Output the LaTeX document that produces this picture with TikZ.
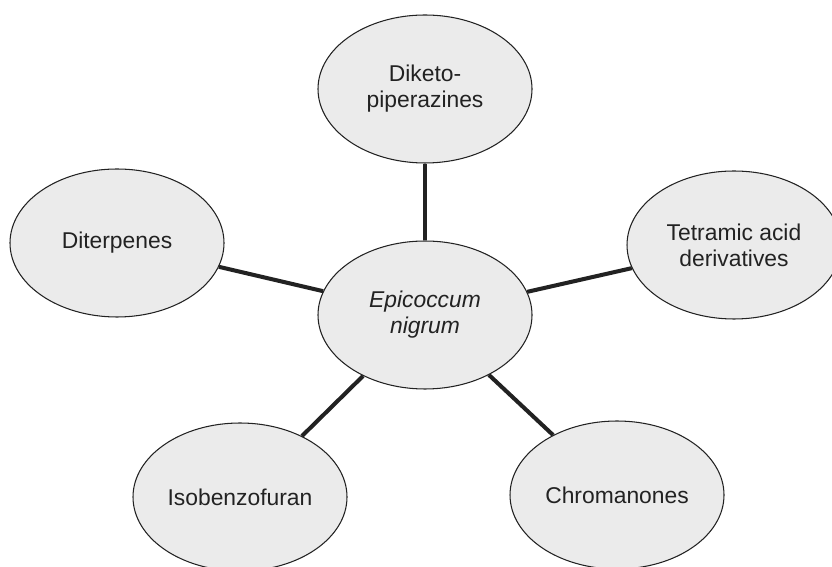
\documentclass[tikz,border=0pt]{standalone}
\usepackage{fontspec}
\setmainfont{Liberation Sans}
\usepackage{tikz}
\usetikzlibrary{shapes.geometric}
\definecolor{blobfill}{HTML}{EBEBEB}
\definecolor{blobline}{HTML}{222222}

\tikzset{
  blob/.style={ellipse, draw=blobline, line width=0.6pt, fill=blobfill,
    minimum width=4.28cm, minimum height=2.96cm, inner sep=0pt,
    align=center, font=\fontsize{13}{14.7}\selectfont, text=blobline},
  link/.style={draw=blobline, line width=2.3pt}
}

\begin{document}
\begin{tikzpicture}
  \useasboundingbox (0,0) rectangle (16.64,11.32);
  % metabolite classes round the fungus
  \node[blob] (fungus) at (8.5,5.02) {\itshape Epicoccum\\\itshape nigrum};
  \node[blob] (dkp)    at (8.5,9.54) {Diketo-\\piperazines};
  \node[blob] (diterp) at (2.34,6.46) {Diterpenes};
  \node[blob] (tetra)  at (14.68,6.42) {Tetramic acid\\derivatives};
  \node[blob] (isobz)  at (4.8,1.38) {Isobenzofuran};
  \node[blob] (chrom)  at (12.34,1.42) {Chromanones};
  \foreach \n in {dkp, diterp, tetra, isobz, chrom}
    \draw[link] (fungus) -- (\n);
\end{tikzpicture}
\end{document}
